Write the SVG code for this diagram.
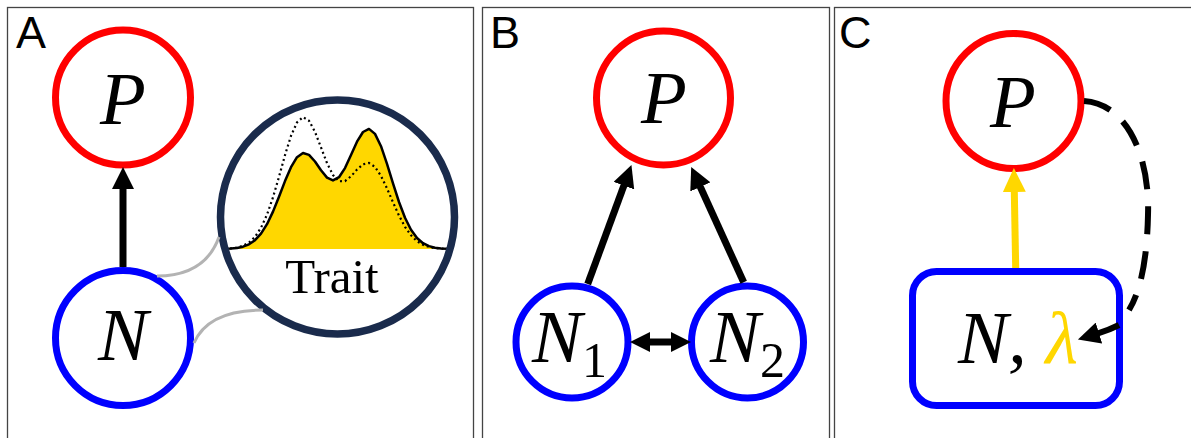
<svg xmlns="http://www.w3.org/2000/svg" width="1191" height="438" viewBox="0 0 1191 438">
<style>
.frame{fill:none;stroke:#444;stroke-width:1.3}
.lbl{font-family:"Liberation Sans","Open Sans",sans-serif;font-size:45px;fill:#000}
.math{font-family:"Liberation Serif","DejaVu Serif",serif;font-style:italic;font-size:75px;fill:#000}
.sub{font-style:normal;font-size:50px}
.red{fill:#fff;stroke:#FF0000;stroke-width:7}
.blue{fill:#fff;stroke:#0000FF;stroke-width:7}
.arr{fill:none;stroke:#000;stroke-width:7}
.gray{fill:none;stroke:#b3b3b3;stroke-width:3}
</style>
<defs>
<marker id="ahL" viewBox="0 0 22 22" markerWidth="22" markerHeight="22" refX="1" refY="11" orient="auto-start-reverse" markerUnits="userSpaceOnUse"><path d="M0,0L22,11L0,22z" fill="#000"/></marker>
<marker id="ahS" viewBox="0 0 20 20" markerWidth="20" markerHeight="20" refX="1" refY="10" orient="auto-start-reverse" markerUnits="userSpaceOnUse"><path d="M0,0L20,10L0,20z" fill="#000"/></marker>
<marker id="ahY" viewBox="0 0 24 23" markerWidth="24" markerHeight="23" refX="1" refY="11.5" orient="auto" markerUnits="userSpaceOnUse"><path d="M0,0L24,11.5L0,23z" fill="#FFD700"/></marker>
</defs>
<g id="panels">
<rect class="frame" x="7.5" y="7.5" width="466" height="450"/>
<rect class="frame" x="482.5" y="7.5" width="347" height="450"/>
<rect class="frame" x="834.5" y="7.5" width="370" height="450"/>
<text class="lbl" x="16" y="48">A</text>
<text class="lbl" x="490" y="48">B</text>
<text class="lbl" x="839" y="48">C</text>
</g>
<g id="nodeA_P">
<circle class="red" cx="123" cy="97.5" r="67.5"/>
<text class="math" x="123" y="124" text-anchor="middle">P</text>
</g>
<g id="nodeA_N">
<circle class="blue" cx="123" cy="338" r="67.5"/>
<text class="math" x="123" y="360" text-anchor="middle">N</text>
</g>
<g id="magnifier">
<circle cx="337.5" cy="217" r="117" fill="#fff"/>
<polygon fill="#FFD700" points="222,249 225,248.8 231,248.6 237,247.9 243,246.7 249,244.3 255,240.2 261,233.7 267,224.2 273,211.6 279,196.8 285,181.1 291,167.2 297,157.2 303,153.0 309,154.9 315,161.5 321,170.2 327,177.6 333,180.4 339,177.2 345,168.1 351,155.0 357,141.7 363,132.0 369,128.9 375,133.9 381,146.2 387,163.8 393,183.4 399,202.0 405,217.8 411,229.8 417,238.0 423,243.2 429,246.1 435,247.7 441,248.4 447,248.8 452,249"/>
<polyline fill="none" stroke="#000" stroke-width="2.2" stroke-dasharray="2 3" points="225,248.75 231,248.4 237,247.5 243,245.8 249,242.6 255,236.9 261,227.8 267,214.7 273,197.3 279,176.8 285,155.1 291,135.9 297,122.4 303,117.1 309,120.7 315,131.9 321,147.4 327,163.1 333,175.1 339,181.3 345,181.1 351,176.3 357,169.6 363,164.3 369,163.0 375,166.9 381,175.9 387,188.4 393,202.3 399,215.6 405,226.8 411,235.3 417,241.2 423,244.8 429,246.9 435,248.1 441,248.6 447,248.8"/>
<polyline fill="none" stroke="#000" stroke-width="2.5" stroke-linejoin="round" points="222,249 225,248.8 231,248.6 237,247.9 243,246.7 249,244.3 255,240.2 261,233.7 267,224.2 273,211.6 279,196.8 285,181.1 291,167.2 297,157.2 303,153.0 309,154.9 315,161.5 321,170.2 327,177.6 333,180.4 339,177.2 345,168.1 351,155.0 357,141.7 363,132.0 369,128.9 375,133.9 381,146.2 387,163.8 393,183.4 399,202.0 405,217.8 411,229.8 417,238.0 423,243.2 429,246.1 435,247.7 441,248.4 447,248.8 452,249"/>
<text x="332" y="293" text-anchor="middle" font-family="'Liberation Serif','Times New Roman',serif" font-size="49" fill="#000">Trait</text>
<circle cx="337.5" cy="217" r="117" fill="none" stroke="#1a2b4c" stroke-width="7.5"/>
</g>
<g id="nodeB_P">
<circle class="red" cx="663.5" cy="98" r="67"/>
<text class="math" x="664" y="123" text-anchor="middle">P</text>
</g>
<g id="nodeB_N1">
<circle class="blue" cx="572" cy="342" r="56"/>
<text class="math" x="532" y="362">N<tspan class="sub" dy="15">1</tspan></text>
</g>
<g id="nodeB_N2">
<circle class="blue" cx="747.5" cy="342" r="56"/>
<text class="math" x="710" y="362">N<tspan class="sub" dy="15">2</tspan></text>
</g>
<g id="nodeC_P">
<circle class="red" cx="1013.5" cy="101" r="67.5"/>
<text class="math" x="1013" y="127" text-anchor="middle">P</text>
</g>
<g id="nodeC_N">
<rect class="blue" x="912.5" y="271.5" width="207" height="134" rx="24"/>
<text class="math" x="958" y="363">N, <tspan fill="#FFD700">λ</tspan></text>
</g>
<g id="connectors">
<path class="gray" d="M157,276 Q205,276 219,237"/>
<path class="gray" d="M194,343 Q208,310 263,310"/>
<path class="arr" d="M123,267 V188" marker-end="url(#ahL)"/>
<path class="arr" d="M587.7,284 L624.2,184.7" marker-end="url(#ahL)"/>
<path class="arr" d="M743.7,282.3 L699.9,186" marker-end="url(#ahL)"/>
<path class="arr" d="M649,342 H672" stroke-width="6.5" marker-start="url(#ahS)" marker-end="url(#ahS)"/>
<path d="M1015.7,268 L1014.3,191" fill="none" stroke="#FFD700" stroke-width="7" marker-end="url(#ahY)"/>
<path d="M1084,101 C1129,104 1150,160 1148,215 C1147,262 1140,292 1129,310" fill="none" stroke="#000" stroke-width="6" stroke-dasharray="28 17"/>
<path d="M1119,325 Q1109,330 1098,333.4" fill="none" stroke="#000" stroke-width="6" marker-end="url(#ahL)"/>
</g>
</svg>
